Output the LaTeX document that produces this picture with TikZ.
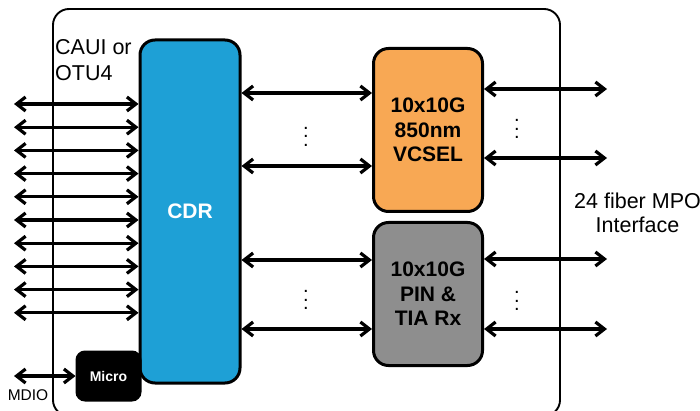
\documentclass[tikz,border=0pt]{standalone}
\usepackage{fontspec}
\setmainfont{Liberation Sans}
\usepackage{tikz}
\usetikzlibrary{arrows.meta}
\usetikzlibrary{positioning}
\definecolor{cdrblue}{RGB}{30,160,214}
\definecolor{vcselorange}{RGB}{248,168,84}
\definecolor{rxgray}{RGB}{142,142,142}

\tikzset{
  block/.style={draw=black, line width=3pt, rounded corners=15pt, align=center, inner sep=0pt,
    font=\fontsize{21}{24.5}\selectfont\bfseries},
  link/.style={line width=3.2pt, {Straight Barb[length=9pt,width=14pt]}-{Straight Barb[length=9pt,width=14pt]}},
  label/.style={align=center, inner sep=0pt, font=\fontsize{21.5}{24}\selectfont},
  dotsnode/.style={align=center, inner sep=0pt, font=\fontsize{20}{8.5}\selectfont}
}

\begin{document}
\begin{tikzpicture}[x=1pt, y=-1pt]
\useasboundingbox (0,0) rectangle (700,411);
\draw[line width=1.9pt, rounded corners=16pt] (53,9) rectangle (560,416);
\node[block, fill=cdrblue, text=white, minimum width=100pt, minimum height=343pt] (cdr) at (190,211.5) {CDR};
\node[block, fill=vcselorange, minimum width=109pt, minimum height=163pt] (vcsel) at (428,130) {10x10G\\850nm\\VCSEL};
\node[block, fill=rxgray, minimum width=109pt, minimum height=143pt] (rx) at (428,294) {10x10G\\PIN \&\\TIA Rx};
\node[block, fill=black, text=white, minimum width=63pt, minimum height=48pt, rounded corners=8pt,
  font=\fontsize{14}{16}\selectfont\bfseries] (micro) at (108.5,376) {Micro};
\node[label, align=left, anchor=north west, font=\fontsize{21.5}{26}\selectfont] (caui) at (55,39) {CAUI or\\OTU4};
\node[label, font=\fontsize{15.5}{15.5}\selectfont] (mdio) at (28,395) {MDIO};
\node[label] (mpo) at (637.5,212.5) {24 fiber MPO\\Interface};
\foreach \i in {0,...,9} {
  \coordinate (caui\i) at (14,{104+23.2*\i});
  \draw[link] (caui\i) -- (caui\i -| cdr.west);
}
\coordinate (mdioend) at (14,376);
\draw[link] (mdioend) -- (micro.west);
\draw[link] ([yshift=37pt]vcsel.west -| cdr.east) -- ([yshift=37pt]vcsel.west);
\draw[link] ([yshift=-36pt]vcsel.west -| cdr.east) -- ([yshift=-36pt]vcsel.west);
\draw[link] ([yshift=34pt]rx.west -| cdr.east) -- ([yshift=34pt]rx.west);
\draw[link] ([yshift=-35pt]rx.west -| cdr.east) -- ([yshift=-35pt]rx.west);
\coordinate (fiberA) at (607,89);
\coordinate (fiberB) at (607,158);
\coordinate (fiberC) at (607,259);
\coordinate (fiberD) at (607,329);
\draw[link] (fiberA -| vcsel.east) -- (fiberA);
\draw[link] (fiberB -| vcsel.east) -- (fiberB);
\draw[link] (fiberC -| rx.east) -- (fiberC);
\draw[link] (fiberD -| rx.east) -- (fiberD);
\node[dotsnode] (dotsA) at (306,136.5) {.\\.\\.};
\node[dotsnode] (dotsB) at (306,300) {.\\.\\.};
\node[dotsnode] (dotsC) at (517,129) {.\\.\\.};
\node[dotsnode] (dotsD) at (517,301) {.\\.\\.};
\end{tikzpicture}
\end{document}
